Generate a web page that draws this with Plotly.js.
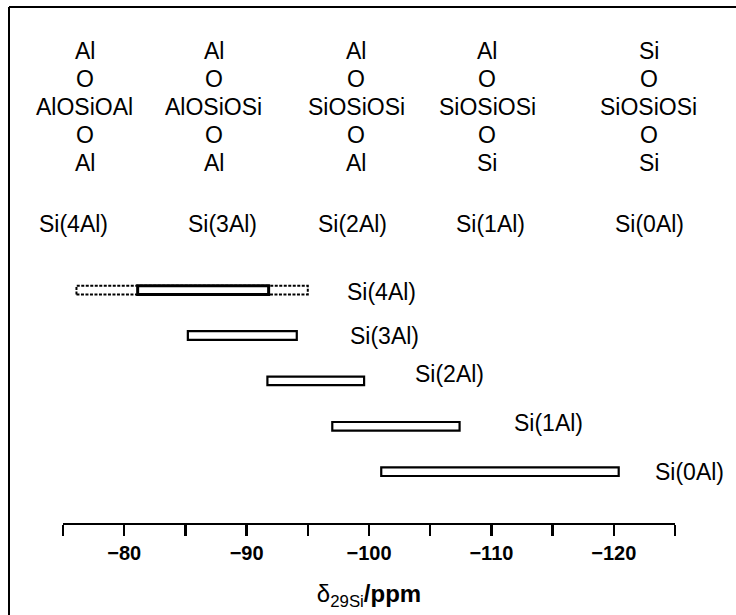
<!DOCTYPE html>
<html><head><meta charset="utf-8">
<script src="https://cdn.plot.ly/plotly-3.0.1.min.js"></script>
<style>html,body{margin:0;padding:0;background:#fff}#chart{width:736px;height:615px}</style>
</head><body><div id="chart"></div>
<script>
// ---- data ----
const categories = ['Si(4Al)', 'Si(3Al)', 'Si(2Al)', 'Si(1Al)', 'Si(0Al)'];
const shiftStart = [-81.1, -85.2, -91.7, -97.0, -101.0];
const shiftEnd   = [-91.8, -94.1, -99.6, -107.4, -120.4];
const si4AlExtendedStart = -76.1;
const si4AlExtendedEnd = -95.0;
const topAtoms    = ['Al', 'Al', 'Al', 'Al', 'Si'];
const chains      = ['AlOSiOAl', 'AlOSiOSi', 'SiOSiOSi', 'SiOSiOSi', 'SiOSiOSi'];
const bottomAtoms = ['Al', 'Al', 'Al', 'Si', 'Si'];
const majorTickValues = [-80, -90, -100, -110, -120];
const majorTickLabels = ['\u221280', '\u221290', '\u2212100', '\u2212110', '\u2212120'];
const minorTickValues = [-75, -80, -85, -90, -95, -100, -105, -110, -115, -120, -125];

// ---- layout helpers ----
const W = 736, H = 615;
const M = {l: 63, r: 61, t: 20, b: 92};
const PW = W - M.l - M.r, PH = H - M.t - M.b;
const px = x => (x - M.l) / PW;
const py = y => (H - M.b - y) / PH;
const FONT = 'Liberation Sans, Arial, sans-serif';
const TXT = 23;
const n = categories.length;
const level = categories.map((c, i) => n - 1 - i);
const halfH = 0.095;

const traces = [];
// dashed extended range for Si(4Al)
const l4 = level[0];
traces.push({
  type: 'scatter', mode: 'lines', hoverinfo: 'skip', showlegend: false,
  x: [si4AlExtendedStart, si4AlExtendedEnd, si4AlExtendedEnd, si4AlExtendedStart, si4AlExtendedStart],
  y: [l4 - halfH, l4 - halfH, l4 + halfH, l4 + halfH, l4 - halfH],
  line: {color: '#000', width: 2, dash: '3px,1.5px'}
});
// solid ranges
traces.push({
  type: 'bar', orientation: 'h', showlegend: false,
  y: level, base: shiftStart,
  x: shiftStart.map((s, i) => shiftEnd[i] - s),
  width: 2 * halfH,
  marker: {color: '#fff', line: {color: '#000', width: categories.map((c, i) => i === 0 ? 3 : 2.2)}}
});

const ann = [];
// bar labels
const labelX = [-98.0, -98.3, -103.6, -111.7, -123.2];
const labelShift = [-2, 0, 7, 3, 0];
categories.forEach((c, i) => {
  ann.push({xref: 'x', yref: 'y', x: labelX[i], y: level[i], yshift: labelShift[i],
    text: c, showarrow: false, xanchor: 'left', yanchor: 'middle',
    font: {family: FONT, size: TXT, color: '#000'}});
});
// structures
const colX = [84.5, 213.5, 356, 487, 648.5];
const labX = [73, 222.5, 352.5, 490, 649];
const rowY = [51, 79, 107, 135, 163];
categories.forEach((c, i) => {
  const lines = [topAtoms[i], 'O', chains[i], 'O', bottomAtoms[i]];
  lines.forEach((t, r) => {
    ann.push({xref: 'paper', yref: 'paper', x: px(colX[i]), y: py(rowY[r]), text: t,
      showarrow: false, xanchor: 'center', yanchor: 'middle',
      font: {family: FONT, size: TXT, color: '#000'}});
  });
  ann.push({xref: 'paper', yref: 'paper', x: px(labX[i]), y: py(224), text: c,
    showarrow: false, xanchor: 'center', yanchor: 'middle',
    font: {family: FONT, size: TXT, color: '#000'}});
});

const layout = {
  width: W, height: H, margin: M,
  paper_bgcolor: '#fff', plot_bgcolor: '#fff',
  showlegend: false,
  xaxis: {
    range: [-75, -125], showgrid: false, zeroline: false,
    showline: true, linecolor: '#000', linewidth: 2,
    ticks: 'outside', ticklen: 11, tickwidth: 2.5, tickcolor: '#000',
    tickmode: 'array', tickvals: majorTickValues, ticktext: majorTickLabels,
    minor: {tickmode: 'array', tickvals: minorTickValues, ticks: 'outside',
      ticklen: 11, tickwidth: 2.5, tickcolor: '#000', showgrid: false},
    ticklabelstandoff: 0,
    tickfont: {family: FONT, size: 20, color: '#000', weight: 'bold'},
    title: {text: '\u03b4<sub>29Si</sub><b>/ppm</b>', standoff: 22,
      font: {family: FONT, size: 24, color: '#000'}},
    fixedrange: true
  },
  yaxis: {visible: false, range: [-1.13, -1.13 + PH / 45.4], fixedrange: true},
  annotations: ann,
  shapes: [
    {type: 'line', xref: 'paper', yref: 'paper', x0: px(9), x1: px(9), y0: py(7), y1: py(620),
     line: {color: '#000', width: 2}},
    {type: 'line', xref: 'paper', yref: 'paper', x0: px(9), x1: px(740), y0: py(7), y1: py(7),
     line: {color: '#000', width: 2}}
  ]
};
Plotly.newPlot('chart', traces, layout, {staticPlot: true, displayModeBar: false});
</script></body></html>
